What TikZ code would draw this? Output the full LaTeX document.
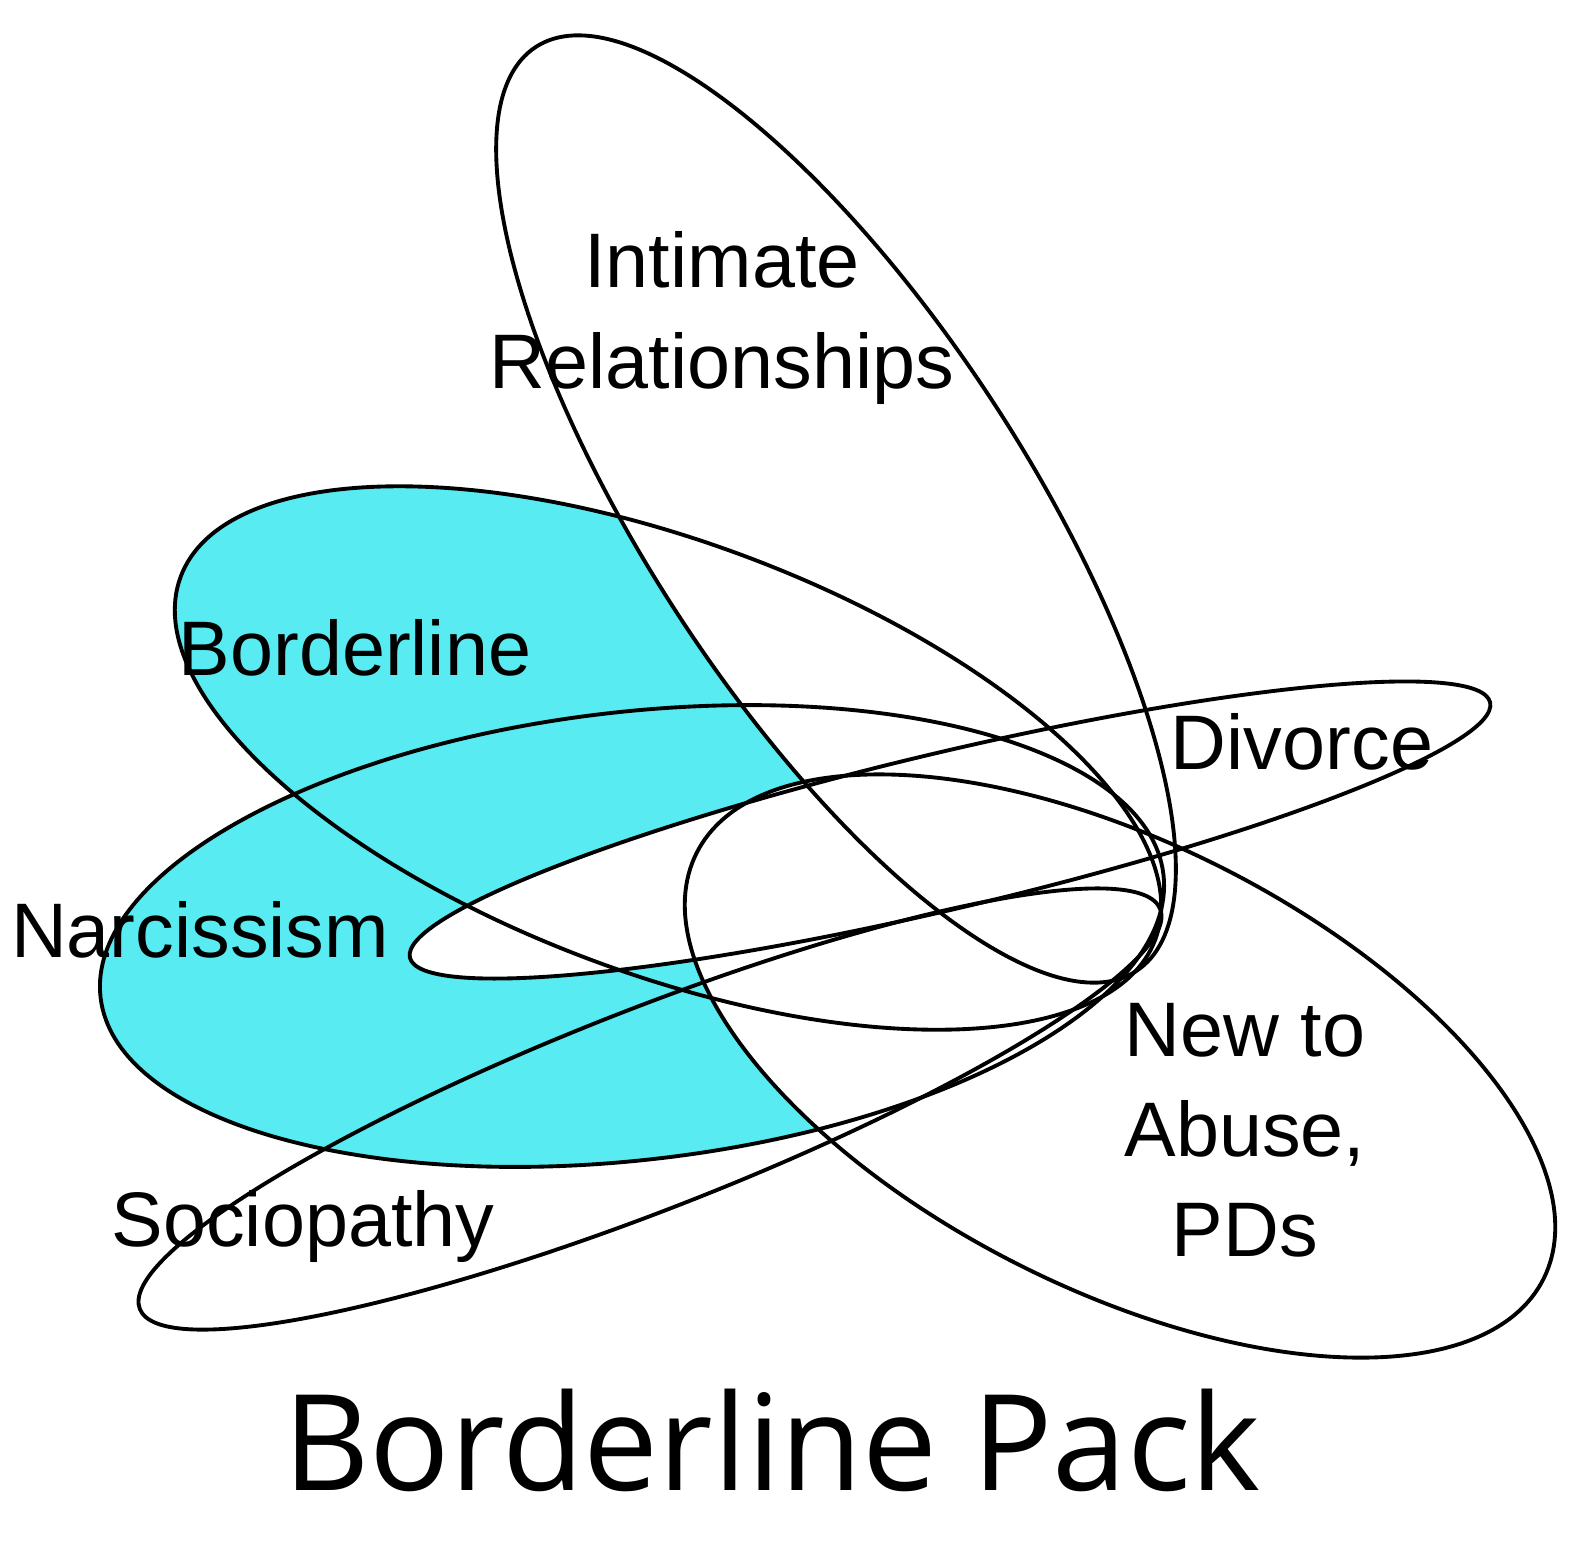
\documentclass[tikz,border=0pt]{standalone}
\usepackage{fontspec}
\setmainfont{Liberation Sans}
\newfontfamily\titlefont{Open Sans}
\definecolor{bpcyan}{RGB}{88,235,242}
\tikzset{%
  set/.style   = {draw=black, line width=1.1pt},%
  cut/.style   = {fill=white},%
  lbl/.style   = {font=\fontsize{22}{28.5}\selectfont, align=center},%
  title/.style = {font=\titlefont\fontsize{38}{44}\selectfont}%
}
\newcommand{\vset}[5]{(#1,#2) ellipse [x radius=#3*0.1mm, y radius=#4*0.1mm, rotate=#5]}
\begin{document}
\begin{tikzpicture}[x=0.1mm,y=-0.1mm]
	\useasboundingbox (0,0) rectangle (1593,1563);
	% shaded part
	\fill[bpcyan] \vset{668}{758}{520}{216}{-20.4};
	\fill[bpcyan] \vset{632}{936}{535}{224}{6.6};
	\fill[cut] \vset{836}{509}{551}{190}{-57};
	\fill[cut] \vset{950}{830}{555}{78}{13.3};
	\fill[cut] \vset{1120}{1066}{474}{223}{-26.7};
	% outlines
	\draw[set] \vset{836}{509}{551}{190}{-57};
	\draw[set] \vset{668}{758}{520}{216}{-20.4};
	\draw[set] \vset{632}{936}{535}{224}{6.6};
	\draw[set] \vset{950}{830}{555}{78}{13.3};
	\draw[set] \vset{650}{1109}{548}{100}{21.4};
	\draw[set] \vset{1120}{1066}{474}{223}{-26.7};
	% labels
	\node[lbl] (intimate) at (722,318) {Intimate\\Relationships};
	\node[lbl] (border) at (355,648) {Borderline};
	\node[lbl] (divorce) at (1302,742) {Divorce};
	\node[lbl] (narc) at (200,930) {Narcissism};
	\node[lbl] (newabuse) at (1245,1130) {New to\\Abuse,\\PDs};
	\node[lbl] (socio) at (303,1226) {Sociopathy};
	\node[title] (pack) at (772,1440) {Borderline Pack};
\end{tikzpicture}
\end{document}
